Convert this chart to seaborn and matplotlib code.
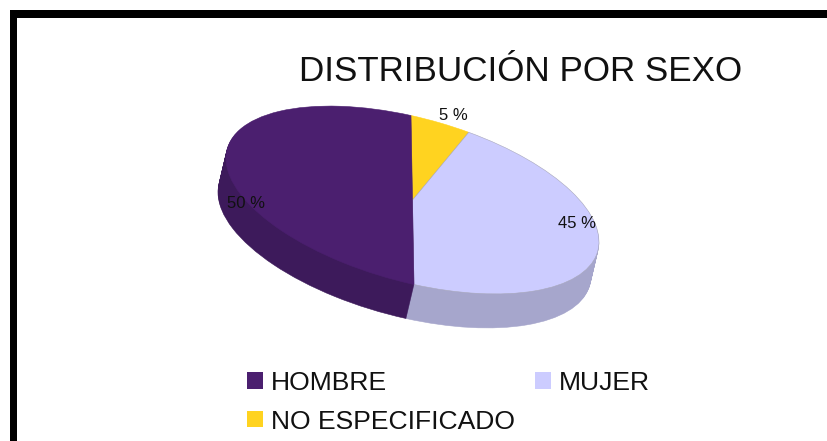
import matplotlib
matplotlib.use("Agg")
import matplotlib.pyplot as plt
from matplotlib.patches import Patch, Rectangle
from matplotlib.transforms import Affine2D
import seaborn as sns

title = "DISTRIBUCIÓN POR SEXO"
# slice order, clockwise from twelve o'clock
categories = ["NO ESPECIFICADO", "MUJER", "HOMBRE"]
shares = [5, 45, 50]
top_colors = ["#FFD320", "#CCCCFF", "#4B1F6F"]
side_colors = ["#B8971A", "#A6A6CC", "#3D1A5B"]
legend_order = ["HOMBRE", "NO ESPECIFICADO", "MUJER"]

sns.set_theme(style="white")
plt.rcParams["font.family"] = ["Liberation Sans", "DejaVu Sans"]

W, H = 827, 441
fig = plt.figure(figsize=(W / 100, H / 100), dpi=100, facecolor="white")
ax = fig.add_axes([0, 0, 1, 1])


def tilted(dx=0.0, dy=0.0):
    return Affine2D.from_values(186.5, 41, -1.5, -84.5, 412.5 + dx, 200 + dy) + ax.transData


def draw_disc(colors, dx=0.0, dy=0.0):
    wedges, _ = ax.pie(shares, colors=colors, startangle=90, counterclock=False)
    for w, c in zip(wedges, colors):
        w.set_transform(tilted(dx, dy))
        w.set_clip_on(False)
        w.set_edgecolor(c)
        w.set_linewidth(0.4)
    return wedges


DEPTH = 34
for step in range(DEPTH, 0, -1):
    draw_disc(side_colors, dx=-8 * step / DEPTH, dy=step)
top = draw_disc(top_colors)
top[1].set_edgecolor("#A8A8BC")
top[1].set_linewidth(0.4)

ax.set_aspect("auto")
ax.set_xlim(0, W)
ax.set_ylim(H, 0)
ax.set_axis_off()

# black frame on the top and left sides
ax.add_patch(Rectangle((9.5, 10), W - 9.5, 8, color="black", lw=0))
ax.add_patch(Rectangle((9.5, 10), 7.5, H - 10, color="black", lw=0))

ax.text(521, 71.5, title, fontsize=25.2, color="#111111", ha="center", va="center")
ax.text(453, 115.5, "5 %", fontsize=12, color="#111111", ha="center", va="center")
ax.text(577, 223.5, "45 %", fontsize=12, color="#111111", ha="center", va="center")
ax.text(246, 203, "50 %", fontsize=12, color="#111111", ha="center", va="center")

color_of = dict(zip(categories, top_colors))
handles = [Patch(facecolor=color_of[c], edgecolor="none", label=c) for c in legend_order]
ax.legend(handles=handles, ncols=2, loc="upper left", bbox_to_anchor=(247 / W, 1 - 371 / H),
          frameon=False, fontsize=19.05, labelcolor="#111111", borderpad=0, borderaxespad=0,
          handlelength=0.62, handleheight=0.58, handletextpad=0.3,
          labelspacing=0.55, columnspacing=0.73)

fig.savefig("out.png", dpi=100, facecolor="white")
